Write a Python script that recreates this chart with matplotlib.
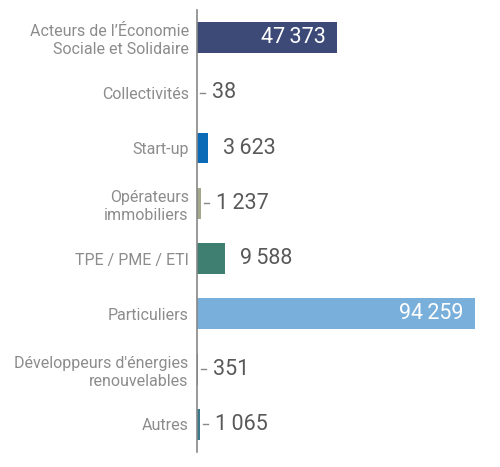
import matplotlib
matplotlib.use("Agg")
import matplotlib.pyplot as plt

# data
categories = [
    "Acteurs de l’Économie\nSociale et Solidaire",
    "Collectivités",
    "Start-up",
    "Opérateurs\nimmobiliers",
    "TPE / PME / ETI",
    "Particuliers",
    "Développeurs d'énergies\nrenouvelables",
    "Autres",
]
values = [47373, 38, 3623, 1237, 9588, 94259, 351, 1065]
colors = ["#3d4a78", "#7fb3de", "#0b6bb7", "#a3a98a", "#3e7f72",
          "#79afdb", "#8c6c7c", "#3a7a8c"]
inside = [True, False, False, False, False, True, False, False]

plt.rcParams['font.family'] = ['Roboto', 'DejaVu Sans']

fig = plt.figure(figsize=(5.0, 4.67), dpi=100)
ax = fig.add_axes([0.394, 0.032, 0.566, 0.947])

y = list(range(len(categories)))
ax.barh(y, values, height=0.56, color=colors)
ax.set_ylim(len(categories) - 0.5, -0.5)
ax.set_xlim(0, 96000)

# px to data units along x
px = 96000 / (0.566 * 500)

def fmt(v):
    return f"{v:,}".replace(",", "\u2009")

for yi, v, inn in zip(y, values, inside):
    if inn:
        ax.text(v - 11 * px, yi, fmt(v), ha="right", va="center",
                fontsize=15.5, color="white")
    else:
        if v < 2000:
            ax.plot([v + 3 * px, v + 8 * px], [yi, yi], color="#888888", lw=1)
        ax.text(v + 15 * px, yi, fmt(v), ha="left", va="center",
                fontsize=15.5, color="#595959")

ax.set_yticks(y)
ax.set_yticklabels(categories, fontsize=11.5, color="#8c8c8c", linespacing=1.25)
ax.tick_params(axis="y", length=0, pad=6)
ax.set_xticks([])
for s in ["top", "right", "bottom"]:
    ax.spines[s].set_visible(False)
ax.spines["left"].set_color("#888888")
ax.spines["left"].set_linewidth(1.2)

fig.savefig("out.png", dpi=100)
